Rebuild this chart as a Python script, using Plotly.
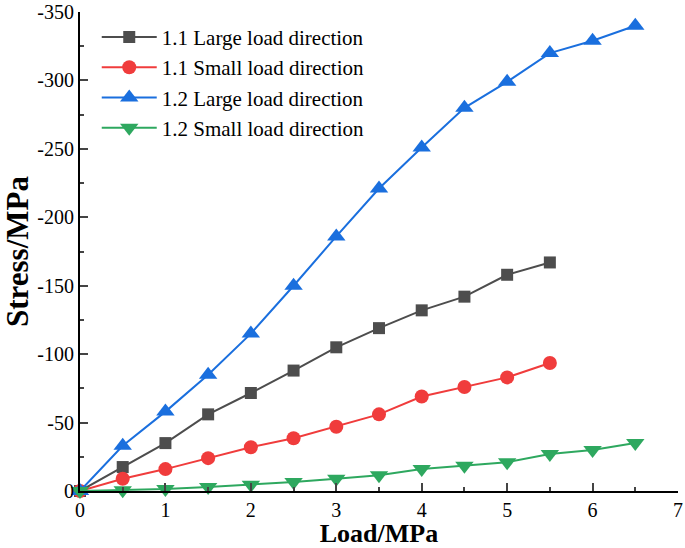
import plotly.graph_objects as go

load = [0, 0.5, 1, 1.5, 2, 2.5, 3, 3.5, 4, 4.5, 5, 5.5, 6, 6.5]
s11_large = [0, -17.5, -35, -56, -71.6, -88, -105, -119, -132, -142, -158, -167]
s11_small = [0, -9, -16, -24, -32, -38.5, -47, -56, -69, -76, -83, -93.5]
s12_large = [0, -33, -58, -85, -115, -150, -186, -221, -251, -280, -299, -320, -329, -340]
s12_small = [0, -0.5, -1.5, -3, -4.5, -6.5, -9, -11.5, -16, -18.5, -21, -27, -30, -35]

names = ["1.1 Large load direction", "1.1 Small load direction",
         "1.2 Large load direction", "1.2 Small load direction"]
y_ticks = [0, -50, -100, -150, -200, -250, -300, -350]
y_labels = ["0", "-50", "-100", "-150", "-200", "-250", "-300", "-350"]
x_ticks = [0, 1, 2, 3, 4, 5, 6, 7]

series = [
    (s11_large, "#4d4d4d", "square", 12),
    (s11_small, "#f03c3c", "circle", 14),
    (s12_large, "#1a6fde", "triangle-up", 16),
    (s12_small, "#2ea85f", "triangle-down", 16),
]

fig = go.Figure()
for name, (vals, col, sym, sz) in zip(names, series):
    fig.add_trace(go.Scatter(
        x=load[:len(vals)], y=vals, name=name, mode="lines+markers",
        line=dict(color=col, width=2),
        marker=dict(symbol=sym, size=sz, color=col),
        cliponaxis=False,
    ))

font = "Liberation Serif"
fig.update_layout(
    width=685, height=548,
    margin=dict(l=80, r=7, t=12, b=57),
    plot_bgcolor="white", paper_bgcolor="white",
    font=dict(family=font, size=20, color="black"),
    showlegend=True,
    legend=dict(x=0.028, y=0.99, xanchor="left", yanchor="top",
                font=dict(family=font, size=21, color="black"),
                bgcolor="rgba(0,0,0,0)", itemwidth=55, tracegroupgap=0),
    xaxis=dict(
        range=[0, 7], tickvals=x_ticks, ticks="inside", ticklen=8, tickwidth=2,
        showline=True, linecolor="black", linewidth=2, showgrid=False, zeroline=False,
        tickfont=dict(family=font, size=20), automargin=False, ticklabeloverflow="allow",
        title=dict(text="<b>Load/MPa</b>", font=dict(family=font, size=26), standoff=5),
        minor=dict(ticks="inside", ticklen=4, tickwidth=1.5, dtick=0.5, showgrid=False),
    ),
    yaxis=dict(
        range=[0, -350], tickvals=y_ticks, ticktext=y_labels, ticks="inside", ticklen=8, tickwidth=2,
        showline=True, linecolor="black", linewidth=2, showgrid=False, zeroline=False,
        tickfont=dict(family=font, size=20), automargin=False, ticklabeloverflow="allow",
        title=dict(text="<b>Stress/MPa</b>", font=dict(family=font, size=31), standoff=2),
        minor=dict(ticks="inside", ticklen=4, tickwidth=1.5, dtick=25, showgrid=False),
    ),
)
fig.write_html("out.html", config={"displayModeBar": False},
               post_script="document.body.style.margin='0';document.body.style.overflow='hidden';")
